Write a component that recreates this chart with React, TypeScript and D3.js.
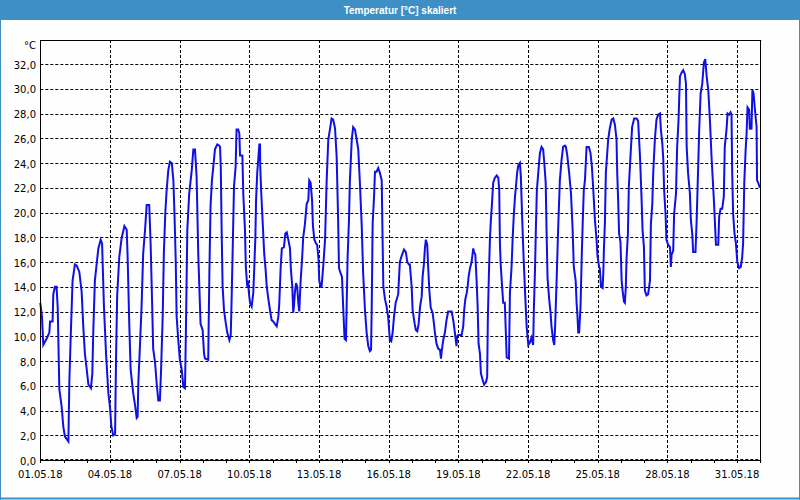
import React from "react";
import * as d3 from "d3";

const TITLE = "Temperatur [°C] skaliert";
const UNIT = "°C";
const START = Date.UTC(2018, 4, 1);

// time offsets in days from 01.05.18 00:00, temperature in °C
const dayOffsets = [
  0.00, 0.07, 0.13, 0.27, 0.39, 0.42, 0.53, 0.56, 0.63, 0.70, 0.75, 0.82, 0.92, 0.99, 1.06, 1.21, 1.25, 1.31, 1.39, 1.49,
  1.57, 1.68, 1.78, 1.85, 1.92, 2.00, 2.07, 2.18, 2.24, 2.28, 2.35, 2.43, 2.50, 2.60, 2.66, 2.74, 2.83, 2.93, 3.00, 3.06,
  3.14, 3.22, 3.26, 3.31, 3.40, 3.50, 3.62, 3.72, 3.76, 3.83, 3.89, 4.00, 4.09, 4.15, 4.19, 4.22, 4.29, 4.36, 4.43, 4.51,
  4.58, 4.69, 4.75, 4.81, 4.86, 4.94, 5.01, 5.08, 5.15, 5.20, 5.27, 5.32, 5.38, 5.44, 5.51, 5.58, 5.66, 5.73, 5.78, 5.83,
  5.87, 5.94, 6.01, 6.09, 6.16, 6.23, 6.27, 6.33, 6.41, 6.52, 6.59, 6.66, 6.73, 6.80, 6.90, 6.99, 7.05, 7.09, 7.23, 7.28,
  7.33, 7.39, 7.45, 7.52, 7.62, 7.71, 7.74, 7.77, 7.81, 7.85, 7.91, 7.99, 8.05, 8.14, 8.20, 8.24, 8.28, 8.34, 8.41, 8.45,
  8.52, 8.57, 8.60, 8.70, 8.74, 8.81, 8.85, 8.91, 8.95, 8.98, 9.03, 9.10, 9.17, 9.21, 9.26, 9.29, 9.34, 9.38, 9.43, 9.46,
  9.47, 9.51, 9.57, 9.64, 9.70, 9.75, 9.82, 9.89, 9.96, 10.03, 10.10, 10.18, 10.25, 10.29, 10.35, 10.40, 10.49, 10.55, 10.61, 10.68,
  10.75, 10.79, 10.85, 10.89, 10.92, 10.96, 11.01, 11.06, 11.11, 11.15, 11.21, 11.27, 11.32, 11.39, 11.47, 11.54, 11.58, 11.64, 11.70, 11.74,
  11.80, 11.87, 11.92, 11.98, 12.01, 12.07, 12.11, 12.18, 12.26, 12.33, 12.40, 12.47, 12.54, 12.61, 12.69, 12.76, 12.82, 12.86, 12.93, 12.99,
  13.04, 13.10, 13.16, 13.19, 13.23, 13.29, 13.33, 13.41, 13.47, 13.55, 13.62, 13.69, 13.76, 13.84, 13.90, 13.98, 14.05, 14.12, 14.19, 14.24,
  14.27, 14.31, 14.37, 14.41, 14.48, 14.55, 14.62, 14.70, 14.74, 14.77, 14.84, 14.91, 14.98, 15.05, 15.11, 15.17, 15.23, 15.30, 15.41, 15.48,
  15.56, 15.66, 15.74, 15.80, 15.87, 15.91, 15.99, 16.03, 16.12, 16.17, 16.23, 16.29, 16.35, 16.42, 16.46, 16.52, 16.56, 16.60, 16.66, 16.70,
  16.75, 16.81, 16.89, 16.95, 16.99, 17.06, 17.13, 17.21, 17.25, 17.29, 17.35, 17.42, 17.49, 17.56, 17.71, 17.78, 17.85, 17.92, 17.95, 17.99,
  18.14, 18.21, 18.25, 18.30, 18.36, 18.40, 18.44, 18.50, 18.57, 18.64, 18.68, 18.73, 18.79, 18.83, 18.87, 18.93, 18.97, 19.04, 19.11, 19.19,
  19.24, 19.27, 19.32, 19.36, 19.40, 19.44, 19.50, 19.57, 19.65, 19.72, 19.76, 19.79, 19.82, 19.88, 19.93, 20.00, 20.08, 20.18, 20.22, 20.29,
  20.34, 20.39, 20.44, 20.48, 20.53, 20.58, 20.65, 20.69, 20.75, 20.81, 20.88, 20.94, 21.01, 21.08, 21.15, 21.22, 21.25, 21.30, 21.34, 21.38,
  21.44, 21.51, 21.58, 21.65, 21.70, 21.76, 21.80, 21.84, 21.91, 21.97, 22.01, 22.08, 22.13, 22.17, 22.23, 22.30, 22.37, 22.44, 22.51, 22.59,
  22.63, 22.69, 22.77, 22.85, 22.92, 22.97, 23.05, 23.09, 23.13, 23.16, 23.20, 23.26, 23.31, 23.35, 23.40, 23.45, 23.52, 23.62, 23.69, 23.75,
  23.81, 23.88, 23.95, 23.99, 24.06, 24.09, 24.14, 24.21, 24.24, 24.27, 24.31, 24.35, 24.45, 24.52, 24.60, 24.67, 24.74, 24.81, 24.84, 24.88,
  24.92, 24.98, 25.03, 25.07, 25.13, 25.17, 25.21, 25.24, 25.30, 25.34, 25.41, 25.48, 25.57, 25.67, 25.74, 25.82, 25.89, 25.93, 25.99, 26.03,
  26.10, 26.17, 26.25, 26.29, 26.35, 26.39, 26.46, 26.53, 26.60, 26.68, 26.72, 26.78, 26.82, 26.86, 26.92, 26.96, 27.03, 27.11, 27.15, 27.18,
  27.25, 27.29, 27.37, 27.42, 27.48, 27.54, 27.61, 27.68, 27.75, 27.80, 27.83, 27.89, 27.97, 28.01, 28.07, 28.11, 28.21, 28.26, 28.33, 28.37,
  28.43, 28.50, 28.57, 28.63, 28.69, 28.76, 28.83, 28.90, 28.97, 29.01, 29.09, 29.19, 29.23, 29.29, 29.36, 29.43, 29.47, 29.55, 29.59, 29.66,
  29.72, 29.76, 29.79, 29.83, 29.89, 29.95, 30.01, 30.09, 30.16, 30.22, 30.26, 30.31, 30.37, 30.41, 30.45, 30.52, 30.55, 30.59, 30.62, 30.66,
  30.71, 30.77, 30.84, 30.86, 30.91, 30.98,
];

const temps = [
  12.7, 11.6, 9.3, 9.8, 10.3, 11.2, 11.2, 13.4, 14.0, 14.0, 12.3, 5.7, 4.3, 2.7, 1.9, 1.5, 6.3, 10.0, 14.5, 15.8,
  15.7, 15.2, 13.6, 10.8, 8.6, 7.3, 6.1, 5.8, 7.0, 10.3, 14.5, 15.9, 17.1, 17.8, 17.5, 12.4, 8.6, 5.4, 4.3, 2.7,
  2.0, 2.1, 8.1, 13.3, 16.4, 17.9, 18.9, 18.6, 16.4, 11.0, 7.3, 5.4, 4.3, 3.4, 3.5, 6.2, 9.2, 12.4, 16.7, 18.6,
  20.6, 20.6, 17.5, 13.0, 9.0, 7.9, 6.2, 4.8, 4.8, 7.3, 11.6, 16.7, 19.9, 21.8, 23.4, 24.1, 24.0, 22.6, 19.7, 16.2,
  11.6, 9.7, 8.1, 7.3, 5.9, 5.8, 10.5, 18.6, 21.5, 23.4, 25.1, 25.1, 22.9, 16.7, 11.0, 10.5, 8.6, 8.2, 8.1, 15.2,
  20.5, 22.6, 23.7, 25.1, 25.5, 25.4, 25.3, 23.7, 18.3, 14.0, 12.1, 11.0, 10.3, 9.7, 10.1, 13.2, 16.7, 22.1, 23.7, 26.7,
  26.7, 26.4, 24.6, 24.6, 21.5, 18.7, 15.6, 14.0, 14.5, 13.5, 12.7, 12.4, 13.5, 15.4, 18.0, 21.0, 23.2, 24.2, 25.5, 25.5,
  23.7, 21.7, 19.4, 16.7, 15.4, 14.0, 13.0, 12.1, 11.3, 11.2, 11.0, 10.8, 11.6, 12.7, 15.6, 17.1, 17.2, 18.3, 18.4, 17.8,
  17.1, 15.4, 14.0, 11.9, 12.4, 13.5, 14.3, 14.0, 12.7, 12.0, 14.5, 16.2, 18.0, 19.0, 20.7, 21.0, 22.6, 22.4, 21.0, 18.9,
  17.8, 17.5, 17.4, 16.2, 14.5, 14.0, 14.0, 15.6, 17.8, 22.6, 25.9, 26.7, 27.6, 27.5, 26.8, 24.5, 19.7, 15.5, 15.1, 14.8,
  12.4, 9.8, 9.7, 12.4, 16.3, 19.4, 22.6, 25.9, 26.9, 26.7, 25.9, 25.1, 22.4, 18.9, 15.1, 12.1, 10.3, 9.2, 8.8, 8.9,
  12.4, 19.1, 21.3, 23.3, 23.3, 23.6, 23.2, 22.6, 17.5, 14.0, 13.0, 12.4, 11.5, 9.7, 9.6, 10.3, 11.6, 12.7, 13.4, 16.0,
  16.5, 17.0, 16.8, 16.0, 15.8, 15.8, 14.0, 12.1, 11.0, 10.5, 10.4, 11.0, 12.4, 13.2, 14.8, 15.9, 17.1, 17.8, 17.4, 15.6,
  13.7, 12.3, 11.9, 11.0, 10.3, 9.4, 9.0, 8.9, 8.2, 8.9, 9.7, 10.3, 11.3, 12.0, 12.0, 11.3, 10.3, 9.2, 10.0, 10.1,
  10.1, 10.8, 12.1, 13.0, 13.5, 14.0, 14.8, 15.5, 16.0, 17.1, 16.8, 16.6, 14.3, 12.4, 9.4, 8.6, 7.0, 6.5, 6.1, 6.3,
  6.7, 11.5, 15.4, 17.9, 19.4, 20.5, 22.4, 22.8, 23.0, 22.8, 21.8, 17.5, 15.9, 14.1, 12.7, 12.7, 8.3, 8.2, 13.5, 15.6,
  18.0, 19.9, 21.3, 22.1, 23.2, 23.8, 24.0, 22.9, 19.4, 16.3, 13.2, 10.8, 9.3, 9.5, 9.9, 9.3, 12.1, 15.4, 18.9, 21.8,
  23.2, 24.8, 25.3, 25.1, 24.0, 22.4, 18.3, 14.7, 13.0, 11.9, 10.8, 9.7, 9.3, 11.0, 14.5, 18.9, 22.6, 24.2, 25.3, 25.4,
  25.3, 24.6, 23.2, 21.5, 18.6, 15.6, 14.5, 12.7, 11.6, 10.3, 10.3, 12.4, 16.3, 18.9, 21.8, 22.6, 25.3, 25.3, 24.8, 23.7,
  21.8, 19.4, 17.8, 16.5, 15.6, 15.5, 14.0, 13.9, 15.1, 17.2, 19.2, 23.2, 25.9, 26.8, 27.5, 27.6, 27.1, 25.9, 23.2, 21.0,
  18.3, 17.6, 14.5, 13.7, 12.8, 12.7, 14.0, 16.2, 18.3, 22.1, 24.5, 26.9, 27.6, 27.6, 27.4, 24.5, 21.0, 18.6, 17.2, 13.7,
  13.3, 13.4, 14.5, 19.1, 20.7, 23.2, 25.9, 27.5, 27.9, 28.0, 26.7, 25.6, 24.4, 21.8, 19.9, 17.8, 17.4, 17.2, 15.6, 16.6,
  16.9, 19.9, 21.5, 25.3, 27.5, 31.0, 31.3, 31.5, 31.2, 30.4, 25.3, 23.2, 21.5, 19.4, 18.3, 16.8, 16.8, 19.4, 24.0, 26.7,
  29.6, 30.4, 32.1, 32.4, 31.0, 29.9, 27.5, 24.5, 22.1, 20.7, 17.4, 17.4, 19.7, 20.3, 20.3, 21.3, 25.3, 26.8, 28.0, 27.9,
  28.1, 27.9, 23.2, 19.9, 18.3, 17.5, 16.0, 15.5, 15.6, 16.4, 17.5, 22.4, 25.1, 26.4, 28.5, 28.3, 26.7, 27.2, 26.7, 29.9,
  29.6, 28.3, 26.9, 22.6, 22.4, 22.0,
];

const yTicks = [0, 2, 4, 6, 8, 10, 12, 14, 16, 18, 20, 22, 24, 26, 28, 30, 32];
const xTickDays = [0, 3, 6, 9, 12, 15, 18, 21, 24, 27, 30];

const W = 800;
const H = 500;
const L = 40.3;
const R = 760.3;
const T = 40;
const B = 460;
const FONT = "'DejaVu Sans', sans-serif";

export default function App() {
  const toDate = (d: number) => new Date(START + d * 86400000);
  const x = d3.scaleUtc().domain([toDate(0), toDate(31)]).range([L, R]);
  const y = d3.scaleLinear().domain([0, 34]).range([B, 39.25]);
  const fmtX = d3.utcFormat("%d.%m.%y");
  const fmtY = (v: number) => d3.format(".1f")(v).replace(".", ",");

  const data = dayOffsets.map((d, i) => ({ t: toDate(d), v: temps[i] }));
  const line = d3
    .line<{ t: Date; v: number }>()
    .x((p) => x(p.t))
    .y((p) => y(p.v));

  const dayTicks = d3.range(0, 32).map(toDate);
  const snap = (v: number) => Math.round(v) + 0.5;

  return (
    <svg
      width={W}
      height={H}
      style={{ position: "absolute", left: 0, top: 0, display: "block", background: "#fdfefd" }}
    >
      <rect x={0} y={0} width={W} height={H} fill="#fdfefd" />
      <rect x={0} y={0} width={W} height={20} fill="#3d8fc4" />
      <text
        x={400}
        y={14}
        textAnchor="middle"
        fill="#ffffff"
        fontFamily="'Liberation Sans', Arial, sans-serif"
        fontWeight="bold"
        fontSize={10}
      >
        {TITLE}
      </text>
      <line x1={0.5} y1={20} x2={0.5} y2={H} stroke="#3d8fc4" />
      <line x1={W - 0.5} y1={20} x2={W - 0.5} y2={H} stroke="#3d8fc4" />
      <line x1={0} y1={H - 1.5} x2={W} y2={H - 1.5} stroke="#3d8fc4" strokeWidth={2} />

      {/* horizontal grid */}
      {yTicks.filter((v) => v > 0).map((v) => (
        <line key={"hg" + v} x1={L} x2={R} y1={snap(y(v))} y2={snap(y(v))} stroke="#000" strokeDasharray="3,2" />
      ))}
      {/* vertical grid */}
      {xTickDays.filter((d) => d > 0).map((d) => (
        <line key={"vg" + d} x1={snap(x(toDate(d)))} x2={snap(x(toDate(d)))} y1={T} y2={B} stroke="#000" strokeDasharray="3,2" />
      ))}
      <line x1={L} x2={R} y1={B - 0.5} y2={B - 0.5} stroke="#000" strokeDasharray="3,2" />

      {/* data line */}
      <path d={line(data) || ""} fill="none" stroke="#1010e6" strokeWidth={2} strokeLinejoin="miter" />

      {/* frame */}
      <line x1={snap(L)} x2={snap(L)} y1={T} y2={B + 1} stroke="#000" />
      <line x1={L} x2={R + 1} y1={T + 0.5} y2={T + 0.5} stroke="#000" />
      <line x1={snap(R)} x2={snap(R)} y1={T} y2={B + 1} stroke="#000" />
      <line x1={L} x2={R + 1} y1={B + 0.5} y2={B + 0.5} stroke="#000" />

      {/* day ticks */}
      {dayTicks.map((t, i) => (
        <line key={"dt" + i} x1={snap(x(t))} x2={snap(x(t))} y1={B} y2={B + 3} stroke="#000" />
      ))}

      {/* y labels */}
      {yTicks.map((v) => (
        <text key={"yl" + v} x={36} y={y(v) + 4.5} textAnchor="end" fontFamily={FONT} fontSize={10} fill="#000">
          {fmtY(v)}
        </text>
      ))}
      <text x={36} y={49} textAnchor="end" fontFamily={FONT} fontSize={10} fill="#000">
        {UNIT}
      </text>

      {/* x labels */}
      {xTickDays.map((d) => (
        <text key={"xl" + d} x={x(toDate(d))} y={478} textAnchor="middle" fontFamily={FONT} fontSize={10} fill="#000">
          {fmtX(toDate(d))}
        </text>
      ))}
    </svg>
  );
}
